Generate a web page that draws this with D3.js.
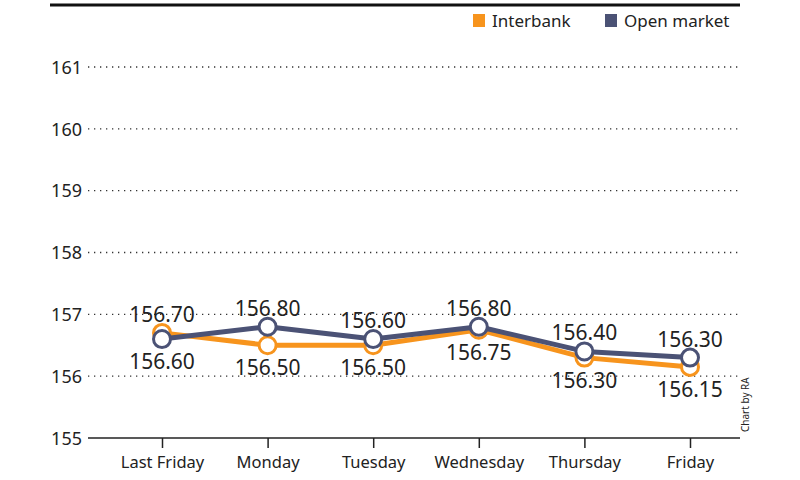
<!DOCTYPE html>
<html><head><meta charset="utf-8">
<script src="https://cdn.jsdelivr.net/npm/d3@7"></script>
<style>body{margin:0;background:#fff}svg{display:block}text{font-family:"Noto Sans",sans-serif}</style>
</head><body><svg id="c" width="800" height="480"></svg>
<script>
const categories = ["Last Friday","Monday","Tuesday","Wednesday","Thursday","Friday"];
const interbank = [156.70,156.50,156.50,156.75,156.30,156.15];
const openMarket = [156.60,156.80,156.60,156.80,156.40,156.30];
const yTicks = [155,156,157,158,159,160,161];
const seriesNames = ["Interbank","Open market"];
const colors = ["#F7941D","#4B5275"];

const svg = d3.select("#c");
const x = d3.scalePoint().domain(categories).range([162,690]);
const y = d3.scaleLinear().domain([155,161]).range([438,67]);

// top rule
svg.append("line").attr("x1",50).attr("x2",740).attr("y1",5).attr("y2",5).attr("stroke","#111").attr("stroke-width",3);

// grid
const gy = svg.append("g");
yTicks.filter(t=>t>155).forEach(t=>{
  gy.append("line").attr("x1",88).attr("x2",740).attr("y1",y(t)).attr("y2",y(t))
    .attr("stroke","#333").attr("stroke-width",1.3).attr("stroke-dasharray","1.3,4.7");
});
// y labels
const yAxis = d3.axisLeft(y).tickValues(yTicks).tickSize(0).tickPadding(6).tickFormat(d3.format("d"));
const ya = svg.append("g").attr("transform","translate(88,0)").call(yAxis);
ya.select(".domain").remove();
ya.selectAll("text").attr("font-size",18).attr("fill","#222").attr("dy","0.35em");

// x axis
const xAxis = d3.axisBottom(x).tickSize(10).tickPadding(8).tickSizeOuter(0);
const xa = svg.append("g").attr("transform","translate(0,438)").call(xAxis);
xa.select(".domain").attr("d","M88,0H740").attr("stroke","#222").attr("stroke-width",1.5);
xa.selectAll(".tick line").attr("stroke","#222").attr("stroke-width",1.5);
xa.selectAll("text").attr("font-size",16.5).attr("fill","#222");

// lines
const line = d3.line().x((d,i)=>x(categories[i])).y(d=>y(d));
[interbank, openMarket].forEach((s,k)=>{
  svg.append("path").datum(s).attr("d",line).attr("fill","none").attr("stroke",colors[k]).attr("stroke-width",5).attr("stroke-linejoin","round");
  svg.append("g").selectAll("circle").data(s).join("circle")
    .attr("cx",(d,i)=>x(categories[i])).attr("cy",d=>y(d)).attr("r",8.5)
    .attr("fill","#fff").attr("stroke",colors[k]).attr("stroke-width",3);
});

// value labels
const lg = svg.append("g");
categories.forEach((c,i)=>{
  const a = interbank[i], b = openMarket[i];
  const hi = Math.max(a,b), lo = Math.min(a,b);
  lg.append("text").attr("x",x(c)).attr("y",y(hi)-11).attr("text-anchor","middle").attr("font-size",21).attr("fill","#222").text(d3.format(".2f")(hi));
  lg.append("text").attr("x",x(c)).attr("y",y(lo)+30).attr("text-anchor","middle").attr("font-size",21).attr("fill","#222").text(d3.format(".2f")(lo));
});

// legend
const leg = svg.append("g");
const legX = [473,605];
seriesNames.forEach((n,k)=>{
  leg.append("rect").attr("x",legX[k]).attr("y",14).attr("width",12).attr("height",13).attr("fill",colors[k]);
  leg.append("text").attr("x",legX[k]+19).attr("y",27).attr("font-size",17).attr("fill","#222").text(n);
});

// credit
svg.append("text").attr("transform","translate(749,432) rotate(-90)").attr("font-size",10).attr("fill","#222").text("Chart by RA");
</script></body></html>
